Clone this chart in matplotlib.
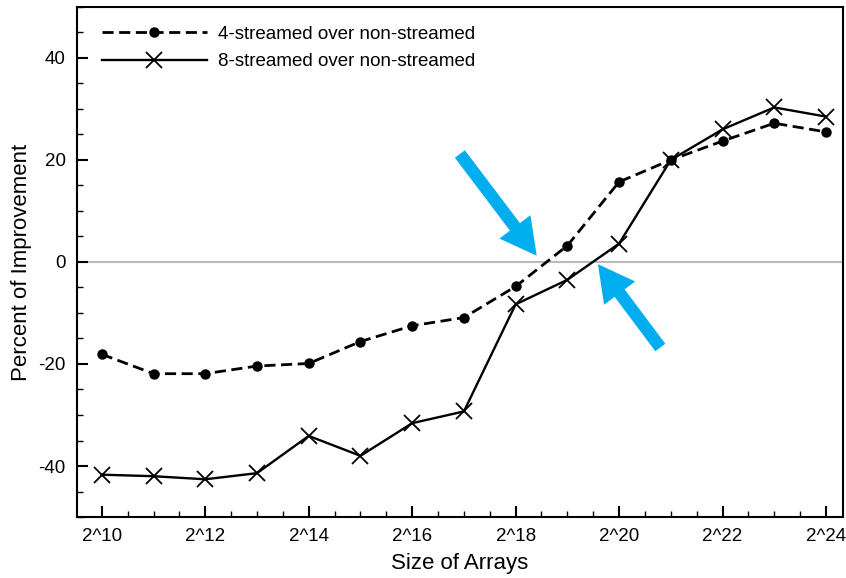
import numpy as np
import matplotlib
matplotlib.use("Agg")
import matplotlib.pyplot as plt
from matplotlib.ticker import MultipleLocator, FuncFormatter

plt.rcParams['font.family'] = ['Liberation Sans', 'DejaVu Sans']
plt.rcParams['axes.unicode_minus'] = False

# array sizes as powers of two
exponents = [10, 11, 12, 13, 14, 15, 16, 17, 18, 19, 20, 21, 22, 23, 24]
four_streamed = [-18.1, -21.9, -21.9, -20.4, -19.9, -15.6, -12.5, -10.9,
                 -4.8, 3.2, 15.7, 20.0, 23.7, 27.2, 25.5]
eight_streamed = [-41.7, -42.0, -42.6, -41.4, -34.1, -38.0, -31.6, -29.3,
                  -8.3, -3.5, 3.6, 20.0, 26.0, 30.3, 28.5]

fig = plt.figure(figsize=(8.46, 5.78), dpi=100)
ax = fig.add_axes([0.091, 0.1055, 0.9055, 0.8825])

ax.axhline(0, color='#bbbbbb', lw=1.5, zorder=1)

ax.plot(exponents, four_streamed, color='black', lw=2.0, ls=(0, (4, 2)),
        marker='o', ms=6.5, label='4-streamed over non-streamed', zorder=3)
ax.plot(exponents, eight_streamed, color='black', lw=1.7, ls='-',
        marker='x', ms=11, mew=1.3, label='8-streamed over non-streamed', zorder=3)

ax.set_xlim(9.52, 24.33)
ax.set_ylim(-50, 50)
ax.xaxis.set_major_locator(MultipleLocator(2))
ax.xaxis.set_minor_locator(MultipleLocator(0.5))
ax.yaxis.set_major_locator(MultipleLocator(20))
ax.yaxis.set_minor_locator(MultipleLocator(5))
ax.xaxis.set_major_formatter(FuncFormatter(lambda v, p: '2^%d' % v))

ax.tick_params(which='both', direction='in', top=False, right=False,
               labelsize=13.5, width=1.5)
ax.tick_params(which='major', length=8, pad=8)
ax.tick_params(which='minor', length=4, width=1)
for s in ax.spines.values():
    s.set_linewidth(1.5)

ax.set_xlabel('Size of Arrays', fontsize=16, labelpad=6)
ax.set_ylabel('Percent of Improvement', fontsize=16, labelpad=5)

ax.legend(loc='upper left', frameon=False, fontsize=13.5, handlelength=5.6,
          handletextpad=0.6, borderaxespad=0.6, labelspacing=0.55,
          bbox_to_anchor=(0.008, 1.0))

arrow_style = 'simple,head_length=2.6,head_width=2.8,tail_width=0.9'
ax.annotate('', xy=(18.44, 0.8), xytext=(16.89, 21.6),
            arrowprops=dict(arrowstyle=arrow_style, mutation_scale=10,
                            color='#00aeef', lw=0), zorder=5)
ax.annotate('', xy=(19.56, 0.0), xytext=(20.83, -17.2),
            arrowprops=dict(arrowstyle=arrow_style, mutation_scale=10,
                            color='#00aeef', lw=0), zorder=5)

fig.savefig('out.png', dpi=100)
